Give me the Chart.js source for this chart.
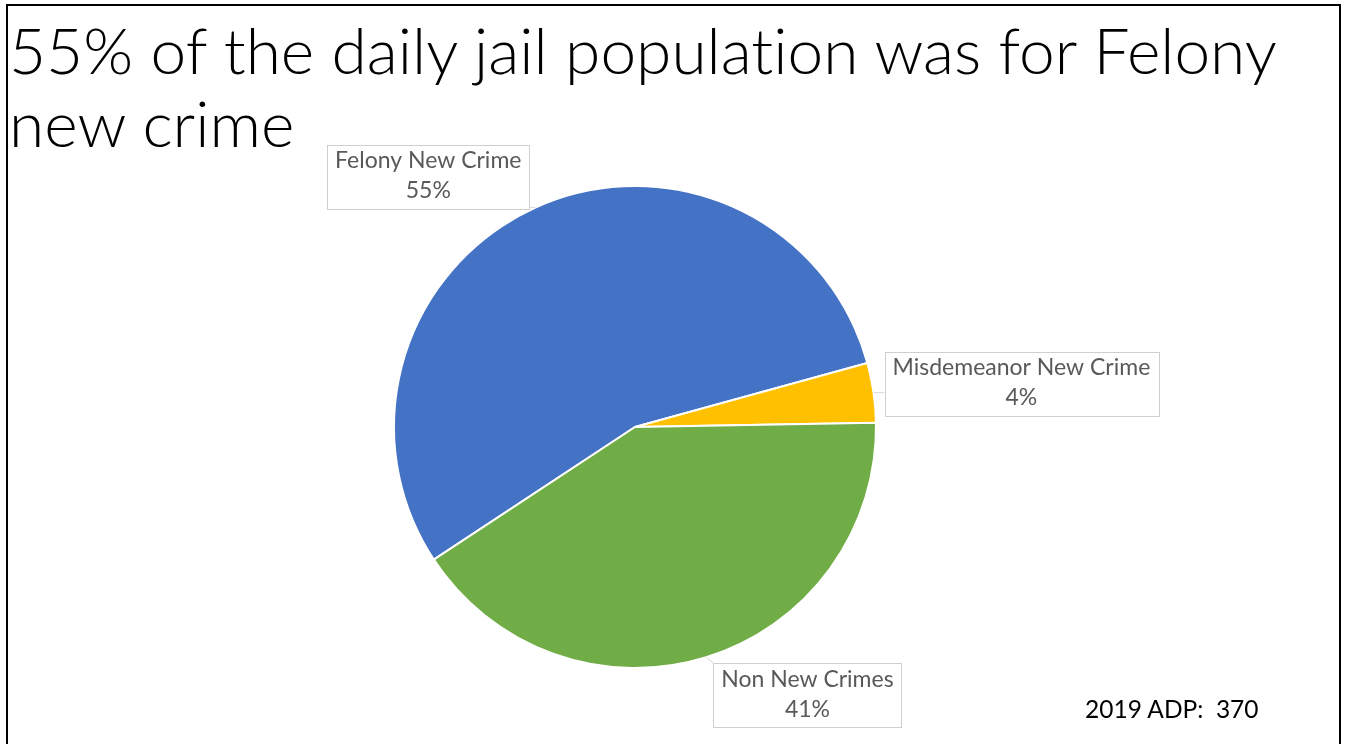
<!DOCTYPE html>
<html>
<head>
<meta charset="utf-8">
<script src="https://cdn.jsdelivr.net/npm/chart.js@4.4.1/dist/chart.umd.min.js"></script>
<style>
  html, body { margin: 0; padding: 0; background: #ffffff; }
  body { width: 1346px; height: 744px; position: relative; overflow: hidden; }
  #frame {
    position: absolute; left: 6px; top: 4px; width: 1335px; height: 760px;
    border: 2px solid #000; box-sizing: border-box;
  }
  #title {
    position: absolute; left: 9px; top: 13px; margin: 0;
    font-family: "Lato", "Open Sans", sans-serif; font-weight: 300;
    font-size: 64px; line-height: 73px; color: #000; white-space: nowrap;
    font-variant-ligatures: none; font-feature-settings: "liga" 0;
  }
  #note {
    position: absolute; left: 1085px; top: 694px;
    font-family: "Lato", "Open Sans", sans-serif; font-size: 24.5px; color: #000;
    white-space: pre;
  }
  #wrap { position: absolute; left: 0; top: 0; width: 1346px; height: 744px; }
</style>
</head>
<body>
<div id="frame"></div>
<div id="wrap"><canvas id="pie"></canvas></div>
<h1 id="title">55% of the daily jail population was for Felony<br>new crime</h1>
<div id="note">2019 ADP:  370</div>
<script>
// Share of the 2019 average daily jail population by booking type
const categories = ['Felony New Crime', 'Misdemeanor New Crime', 'Non New Crimes'];
const shares = [55, 4, 41];
const sliceColors = ['#4472C4', '#FFC000', '#70AD47'];

// Callout placement relative to each slice's outer mid point
const calloutStyle = [
  { anchor: 'bottom-right', dx: -6, dy: 1 },
  { anchor: 'left-middle', dx: 11, dy: -9 },
  { anchor: 'top-left', dx: 7, dy: 6 }
];

const calloutPlugin = {
  id: 'callouts',
  afterDatasetsDraw(chart) {
    const ctx = chart.ctx;
    const meta = chart.getDatasetMeta(0);
    const data = chart.data.datasets[0].data;
    ctx.save();
    ctx.font = '23px Lato, "Open Sans", sans-serif';
    meta.data.forEach((arc, i) => {
      const p = arc.getProps(['x', 'y', 'startAngle', 'endAngle', 'outerRadius'], true);
      const mid = (p.startAngle + p.endAngle) / 2;
      const ex = p.x + Math.cos(mid) * p.outerRadius;
      const ey = p.y + Math.sin(mid) * p.outerRadius;
      const l1 = chart.data.labels[i];
      const l2 = data[i] + '%';
      const w = Math.max(ctx.measureText(l1).width, ctx.measureText(l2).width) + 16;
      const h = 64;
      const st = calloutStyle[i];
      let bx, by;
      if (st.anchor === 'bottom-right') { bx = ex + st.dx - w; by = ey + st.dy - h; }
      else if (st.anchor === 'left-middle') { bx = ex + st.dx; by = ey + st.dy - h / 2; }
      else { bx = ex + st.dx; by = ey + st.dy; }
      // leader line
      ctx.strokeStyle = 'rgba(190,190,190,0.6)';
      ctx.lineWidth = 1;
      ctx.beginPath();
      ctx.moveTo(ex, ey);
      const lx = Math.min(Math.max(ex, bx), bx + w);
      const ly = Math.min(Math.max(ey, by), by + h);
      ctx.lineTo(lx, ly);
      ctx.stroke();
      // box
      ctx.fillStyle = '#ffffff';
      ctx.fillRect(bx, by, w, h);
      ctx.strokeStyle = '#cfcfcf';
      ctx.strokeRect(Math.round(bx) + 0.5, Math.round(by) + 0.5, Math.round(w), h);
      ctx.fillStyle = '#595959';
      ctx.textAlign = 'center';
      ctx.textBaseline = 'middle';
      ctx.fillText(l1, bx + w / 2, by + 16);
      ctx.fillText(l2, bx + w / 2, by + 46);
    });
    ctx.restore();
  }
};

new Chart(document.getElementById('pie'), {
  type: 'pie',
  data: {
    labels: categories,
    datasets: [{
      data: shares,
      backgroundColor: sliceColors,
      borderColor: '#ffffff',
      borderWidth: 2
    }]
  },
  options: {
    responsive: true,
    maintainAspectRatio: false,
    animation: false,
    rotation: 236.6,
    layout: { padding: { left: 393, right: 469, top: 185, bottom: 75 } },
    plugins: {
      legend: { display: false },
      tooltip: { enabled: false },
      title: { display: false }
    }
  },
  plugins: [calloutPlugin]
});
</script>
</body>
</html>
